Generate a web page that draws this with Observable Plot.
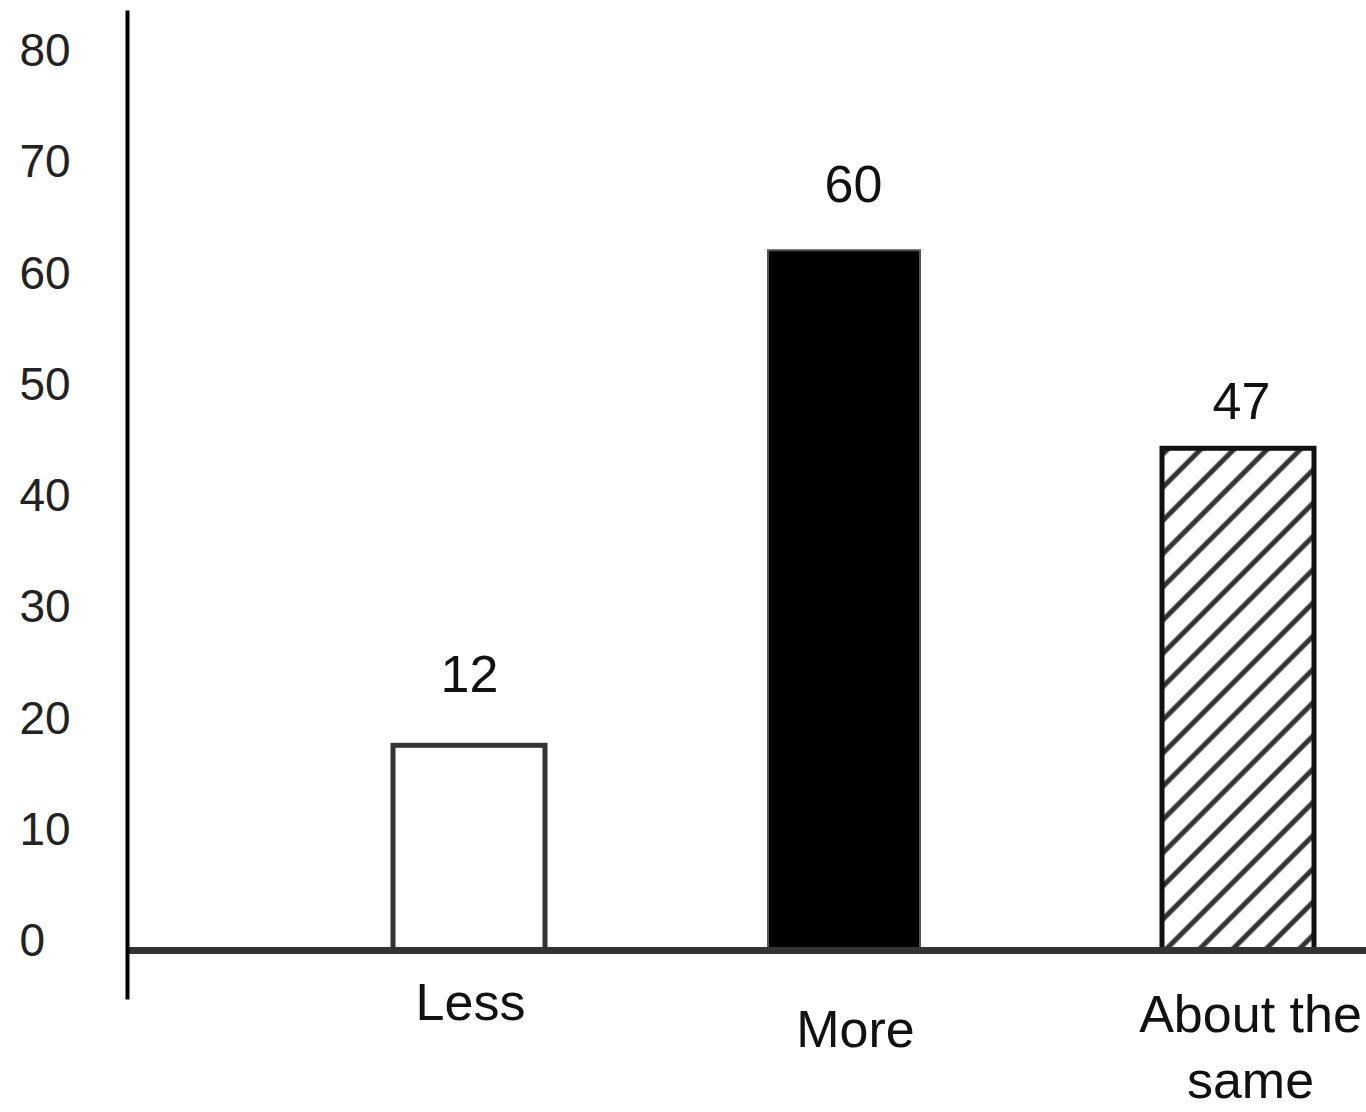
<!DOCTYPE html>
<html>
<head>
<meta charset="utf-8">
<script src="https://cdn.jsdelivr.net/npm/d3@7"></script>
<script src="https://cdn.jsdelivr.net/npm/@observablehq/plot@0.6"></script>
<style>
  html, body { margin: 0; padding: 0; background: #fff; }
  #chart { width: 1366px; height: 1112px; }
</style>
</head>
<body>
<div id="chart"></div>
<script>
// ---- data ----
const categories = ["Less", "More", "About the same"];
const barHeights = [18.4, 62.9, 45.1];      // heights of the bars as drawn
const valueLabels = ["12", "60", "47"];     // numbers printed above the bars
const yTicks = [0, 10, 20, 30, 40, 50, 60, 70, 80];

const data = categories.map((c, i) => ({cat: c, h: barHeights[i], label: valueLabels[i]}));

// ---- styling (not data) ----
const font = "Liberation Sans, Arial, Helvetica, sans-serif";
const barStyle = {
  "Less": {fill: "#fff", stroke: "#333", strokeWidth: 5, dx: 4},
  "More": {fill: "#000", stroke: "#555", strokeWidth: 2, dx: -5},
  "About the same": {fill: "url(#hatch)", stroke: "#111", strokeWidth: 5, dx: 5}
};
const valueDy = {"Less": -70, "More": -65, "About the same": -46};
const valueDx = {"Less": 4, "More": 4, "About the same": 8};
const catDy = {"Less": 48, "More": 75, "About the same": 93};
const catDx = {"Less": 5, "More": 6, "About the same": 17};
const catText = {"Less": "Less", "More": "More", "About the same": "About the\nsame"};

const marks = [];
for (const d of data) {
  marks.push(Plot.barY([d], {x: "cat", y: "h", ...barStyle[d.cat]}));
}
marks.push(
  Plot.ruleY([0], {stroke: "#333", strokeWidth: 7}),
  Plot.frame({anchor: "left", stroke: "#000", strokeWidth: 4, insetTop: -48, insetBottom: -47}),
  Plot.text(yTicks, {y: d => d, text: d => String(d), frameAnchor: "left", textAnchor: "start", dx: -108, dy: -9, fontSize: 46, fill: "#222", fontFamily: font})
);
for (const d of data) {
  marks.push(Plot.text([d], {x: "cat", y: "h", text: "label", dx: valueDx[d.cat], dy: valueDy[d.cat], fontSize: 52, fill: "#111", fontFamily: font}));
  marks.push(Plot.text([d], {x: "cat", y: () => 0, text: () => catText[d.cat], dx: catDx[d.cat], dy: catDy[d.cat], fontSize: 52, lineHeight: 1.28, fill: "#111", fontFamily: font}));
}

const svg = Plot.plot({
  width: 1366,
  height: 1112,
  marginLeft: 127,
  marginRight: 0,
  marginTop: 60,
  marginBottom: 162,
  style: {background: "#fff", fontFamily: font},
  x: {domain: categories, range: [388, 1309], paddingInner: 0.605, paddingOuter: 0, axis: null},
  y: {domain: [0, 80], axis: null},
  marks
});

const ns = "http://www.w3.org/2000/svg";
const defs = document.createElementNS(ns, "defs");
defs.innerHTML = `<pattern id="hatch" patternUnits="userSpaceOnUse" width="23.5" height="23.5" patternTransform="rotate(45)">
  <rect width="23.5" height="23.5" fill="#fff"/>
  <line x1="11.75" y1="0" x2="11.75" y2="23.5" stroke="#333" stroke-width="5"/>
</pattern>`;
svg.insertBefore(defs, svg.firstChild);
document.getElementById("chart").appendChild(svg);
</script>
</body>
</html>
